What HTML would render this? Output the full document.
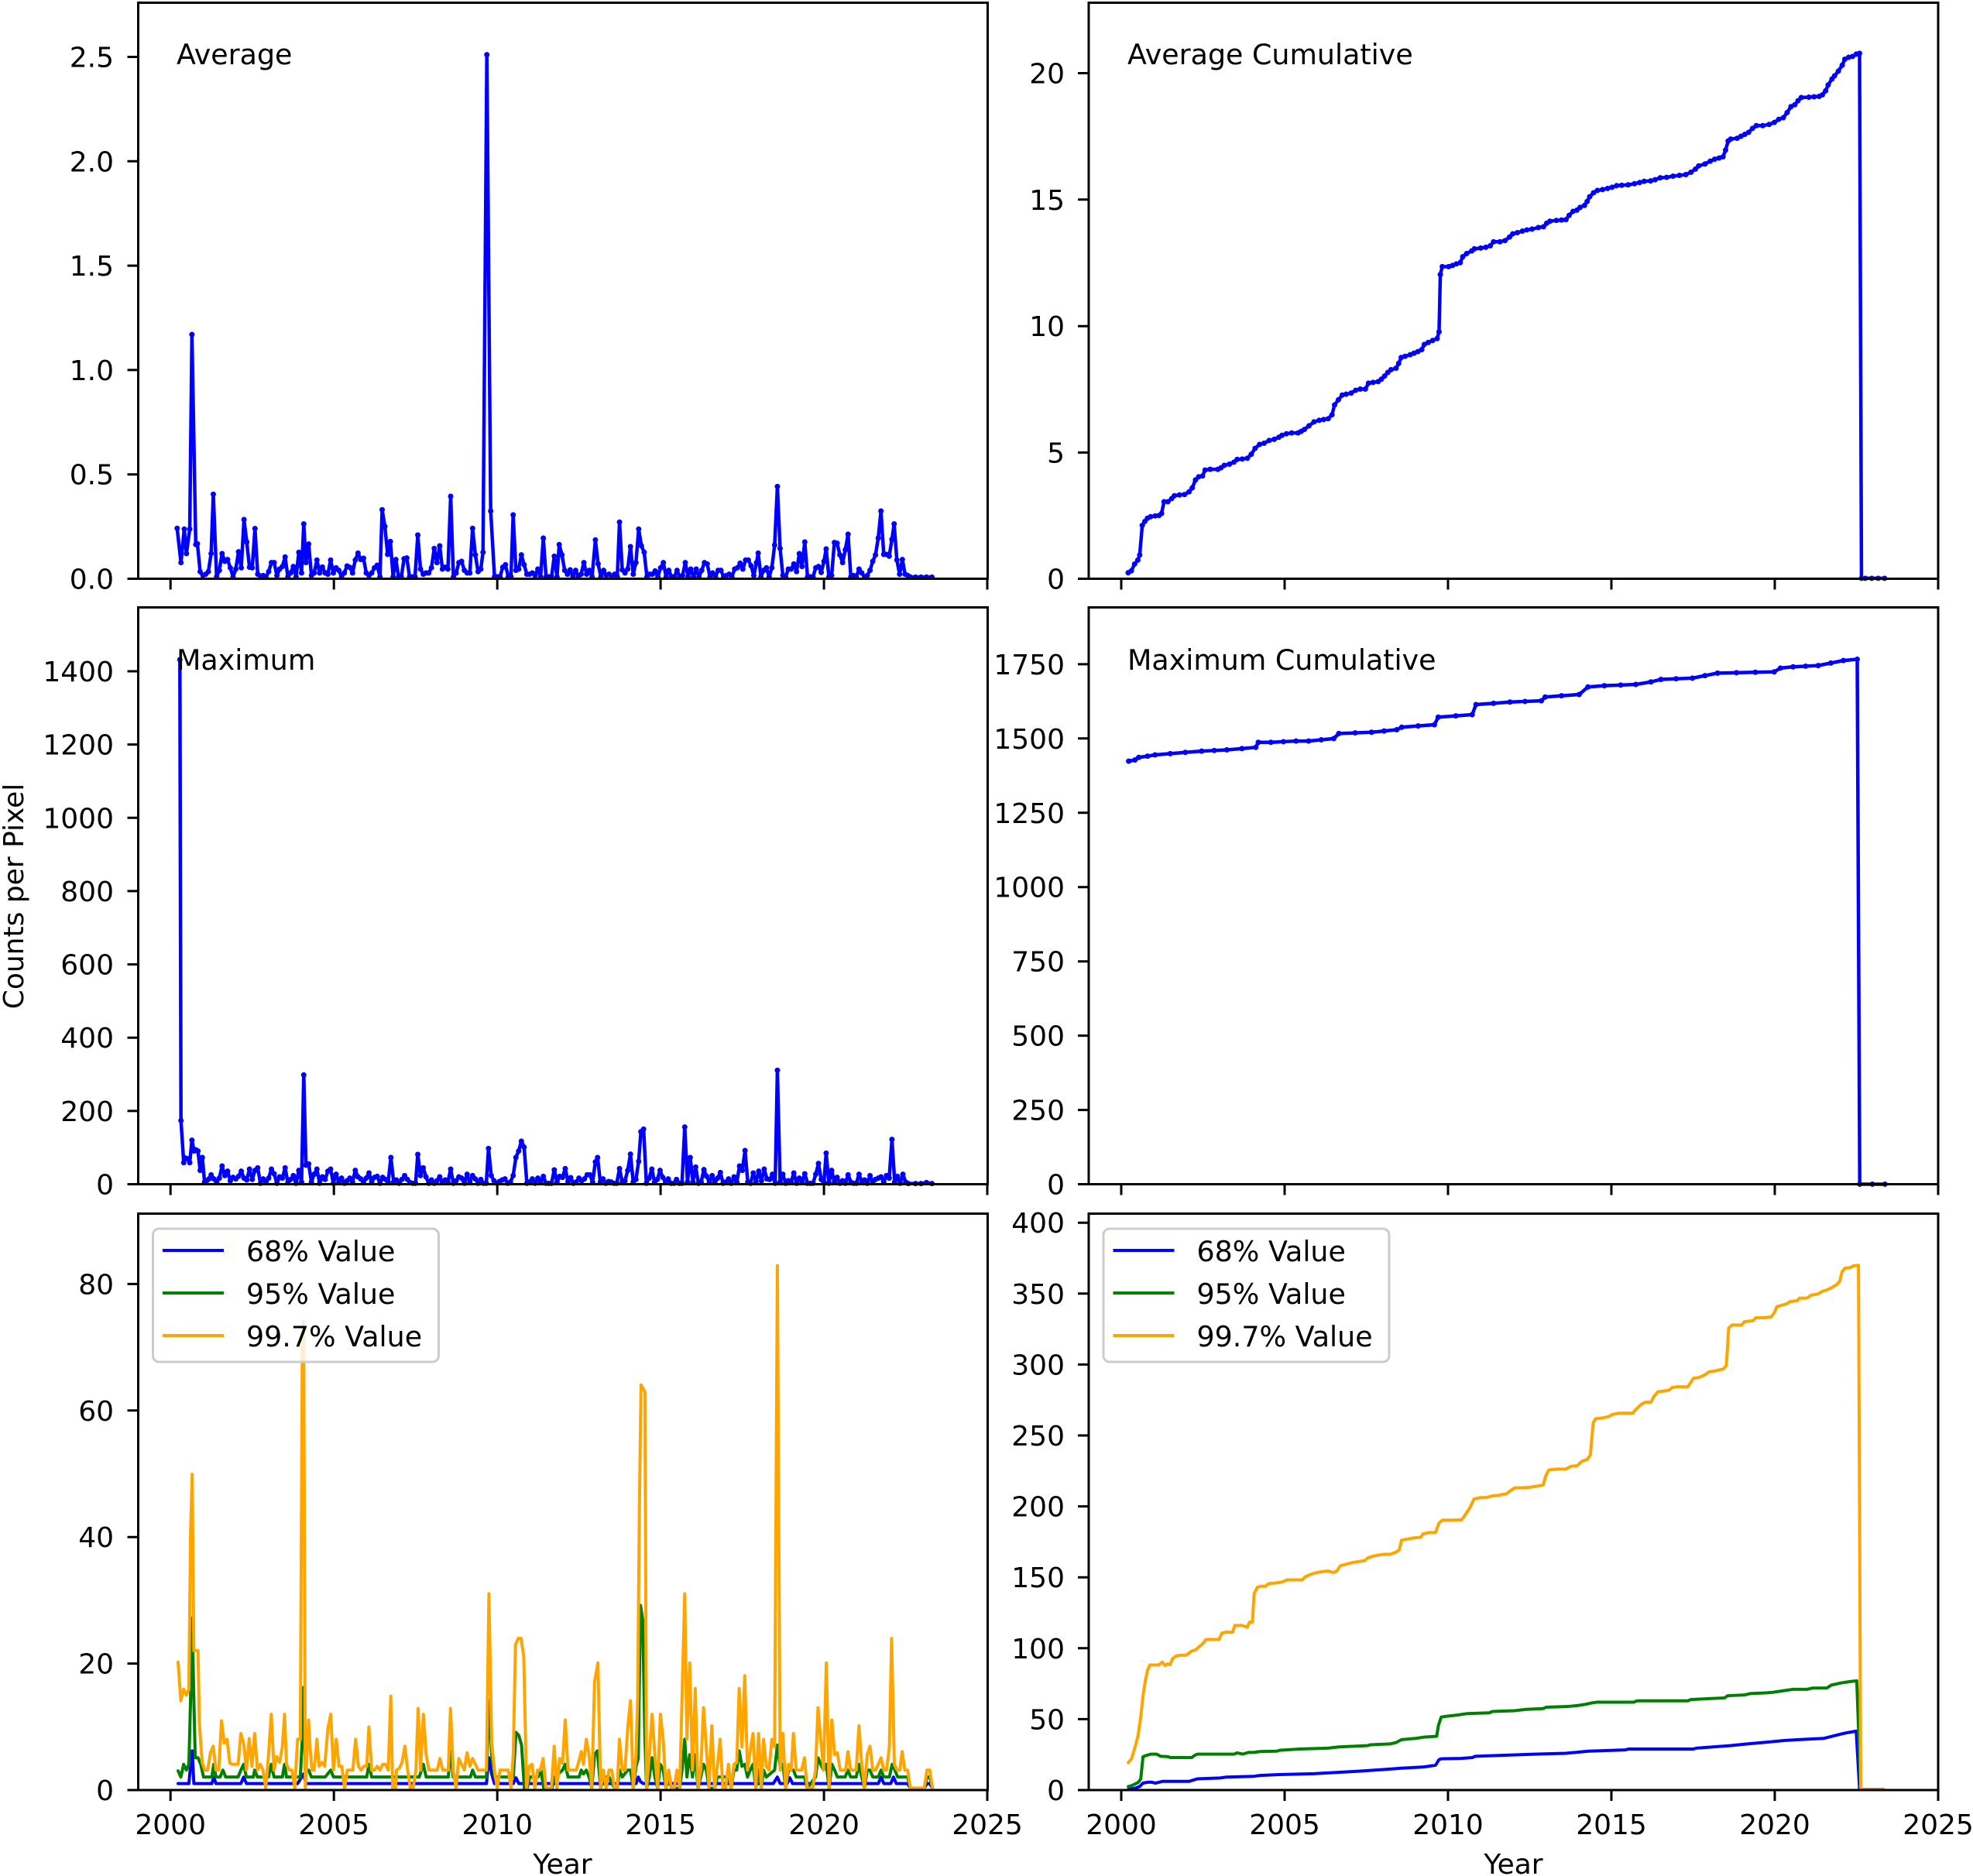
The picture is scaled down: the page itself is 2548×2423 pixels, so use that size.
<!DOCTYPE html>
<html><head><meta charset="utf-8"><title>Counts per Pixel</title>
<style>
html,body{margin:0;padding:0;background:#fff;}
svg{display:block;}
text{font-family:"DejaVu Sans","Liberation Sans",sans-serif;fill:#000;}
.ln{fill:none;vector-effect:non-scaling-stroke;stroke-linejoin:round;stroke-linecap:round;}
</style></head>
<body>
<svg width="2548" height="2423" viewBox="0 0 2548 2423" xmlns="http://www.w3.org/2000/svg">
<defs>
<marker id="mTL" markerUnits="userSpaceOnUse" viewBox="0 0 2 2" preserveAspectRatio="none" refX="1" refY="1" markerWidth="9.9" markerHeight="21" overflow="visible"><circle cx="1" cy="1" r="1" fill="#0000ff"/></marker>
<marker id="mTR" markerUnits="userSpaceOnUse" viewBox="0 0 2 2" preserveAspectRatio="none" refX="1" refY="1" markerWidth="8.46" markerHeight="13.7" overflow="visible"><circle cx="1" cy="1" r="1" fill="#0000ff"/></marker>
<marker id="mMR" markerUnits="userSpaceOnUse" viewBox="0 0 2 2" preserveAspectRatio="none" refX="1" refY="1" markerWidth="4.3" markerHeight="4.3" overflow="visible"><circle cx="1" cy="1" r="1" fill="#0000ff"/></marker>
</defs>
<rect x="0" y="0" width="2548" height="2423" fill="#fff"/>

<!-- ============ TOP LEFT: Average ============ -->
<g transform="translate(170 600) scale(0.70792 0.33333)">
<polyline class="ln" stroke="#0000ff" stroke-width="4.5" marker-start="url(#mTL)" marker-mid="url(#mTL)" marker-end="url(#mTL)" points="83,247 90,380 96,250 100,345 106,250 110,-504 117,310 120,307 125,415 130,430 135,425 140,415 145,345 149,115 155,435 160,410 165,345 170,375 175,368 180,400 185,435 190,405 195,338 200,400 205,213 210,300 215,398 220,400 225,248 230,425 235,432 240,430 245,437 250,415 255,380 260,380 265,430 270,405 275,395 280,358 285,435 290,420 295,395 300,435 305,340 310,420 314,230 318,380 323,308 328,430 333,420 338,370 343,420 348,397 353,420 358,425 363,370 368,420 373,400 378,410 383,435 388,420 393,393 398,398 403,420 408,370 413,343 418,368 423,363 428,420 433,430 438,420 443,400 448,390 453,435 457,175 462,240 467,348 472,298 477,435 482,368 487,435 492,435 497,365 502,362 507,435 512,435 517,435 522,273 527,405 532,425 537,420 542,420 547,400 552,325 557,380 562,315 567,405 572,398 577,405 582,123 587,435 592,420 597,380 602,375 607,410 612,420 617,420 622,247 627,350 632,415 637,405 641,340 648,-1588 655,180 662,435 667,435 672,435 677,398 682,388 687,435 692,435 696,195 701,410 706,405 711,350 716,388 721,425 726,425 731,420 736,430 741,405 746,435 751,285 756,435 761,435 766,435 771,355 776,435 780,310 785,350 790,410 795,425 800,408 805,432 810,410 815,435 820,425 825,380 830,425 835,410 840,435 846,292 851,385 856,435 861,410 866,430 871,425 876,435 881,425 886,435 890,223 895,408 900,420 905,405 910,318 915,425 920,380 925,250 930,315 935,340 940,435 945,425 950,425 955,412 960,435 965,400 970,380 975,435 980,410 985,435 990,435 995,410 1000,435 1005,430 1010,380 1015,435 1020,405 1025,435 1030,405 1035,435 1040,410 1045,380 1050,385 1055,435 1060,420 1065,435 1070,410 1075,410 1080,435 1085,430 1090,425 1095,435 1100,405 1105,400 1110,382 1115,405 1120,370 1125,370 1130,392 1135,430 1140,380 1143,343 1148,435 1153,410 1158,400 1163,435 1168,400 1173,312 1178,85 1183,325 1188,430 1193,435 1198,405 1203,405 1208,385 1213,415 1218,345 1223,395 1228,300 1233,435 1238,435 1243,435 1248,400 1253,395 1258,418 1263,375 1267,327 1272,435 1277,430 1282,302 1287,305 1292,350 1297,380 1302,330 1307,270 1312,435 1317,430 1322,435 1327,405 1332,420 1337,435 1342,430 1347,410 1352,375 1357,350 1362,285 1367,180 1372,348 1377,348 1382,355 1387,290 1391,230 1396,370 1401,425 1406,368 1411,425 1416,430 1421,436 1430,436 1440,436 1450,436 1460,436"/>
</g>

<!-- ============ TOP RIGHT: Average Cumulative ============ -->
<g transform="translate(1250 0) scale(0.82781 0.5102)">
<polyline class="ln" stroke="#0000ff" stroke-width="4.5" marker-start="url(#mTR)" marker-mid="url(#mTR)" marker-end="url(#mTR)" points="250,1450 255,1445 260,1428 265,1418 268,1405 272,1330 276,1320 280,1312 285,1308 292,1306 298,1305 302,1300 306,1270 312,1270 318,1262 322,1255 330,1253 338,1252 345,1245 350,1235 355,1215 360,1207 366,1205 370,1190 378,1188 390,1188 395,1184 400,1178 408,1175 415,1170 420,1163 428,1162 436,1160 442,1150 448,1135 455,1125 462,1122 470,1115 478,1112 485,1107 490,1102 497,1098 505,1096 515,1096 520,1092 525,1087 532,1078 540,1068 548,1064 555,1062 562,1060 568,1050 572,1025 578,1012 584,1000 590,998 598,995 605,988 612,985 620,985 625,970 632,968 640,966 645,960 650,952 655,943 660,936 668,932 672,920 676,905 682,902 690,898 696,894 702,890 708,885 712,872 718,867 725,862 732,857 735,840 737,695 740,675 750,675 756,672 762,668 768,665 772,650 778,642 786,635 790,630 800,628 808,626 815,622 820,612 830,612 838,609 845,600 850,592 857,589 865,585 872,582 880,580 890,576 898,574 903,565 908,560 918,558 926,557 933,556 938,545 944,535 950,532 955,525 962,520 966,510 970,498 976,488 982,482 990,480 998,477 1005,474 1012,470 1020,469 1030,468 1040,465 1048,462 1055,459 1065,458 1072,455 1080,450 1090,449 1100,446 1110,444 1120,442 1128,436 1135,428 1140,420 1150,415 1158,408 1165,403 1172,400 1178,397 1182,380 1186,357 1190,352 1200,350 1206,345 1212,340 1218,335 1224,325 1230,318 1240,318 1250,315 1258,310 1265,302 1272,298 1278,285 1284,270 1290,265 1295,255 1300,247 1312,246 1320,245 1328,244 1333,240 1338,230 1342,215 1348,200 1352,192 1358,180 1364,165 1368,150 1374,145 1380,143 1386,137 1391,135 1394,1464 1400,1464 1410,1464 1420,1464 1430,1464"/>
</g>

<!-- ============ MIDDLE LEFT: Maximum ============ -->
<g transform="translate(170 1330) scale(0.70792 0.33333)">
<polyline class="ln" stroke="#0000ff" stroke-width="4.5" marker-start="url(#mTL)" marker-mid="url(#mTL)" marker-end="url(#mTL)" points="88,-1434 90,352 95,515 98,497 102,500 106,515 110,428 114,470 117,465 121,470 125,545 129,495 133,590 137,585 141,578 145,562 150,578 155,590 160,575 165,528 170,565 175,548 180,585 185,572 190,578 195,568 200,548 205,575 210,582 215,540 220,580 225,545 230,535 235,595 240,578 245,590 250,575 255,540 260,558 265,595 270,570 275,575 280,535 285,592 290,580 295,565 300,595 305,545 310,590 314,175 318,525 323,520 328,590 333,560 338,540 343,595 348,570 353,580 358,548 363,540 368,595 373,560 378,590 383,575 388,595 393,585 398,575 403,590 408,545 413,570 418,578 423,590 428,575 433,555 438,590 443,572 448,568 453,595 458,572 463,580 468,590 473,495 478,590 483,582 488,595 493,580 498,565 503,580 508,592 513,595 518,595 522,483 527,565 532,535 537,570 542,595 547,582 552,595 557,585 562,570 567,590 572,582 577,590 582,540 587,595 592,585 597,570 602,575 607,595 612,560 617,590 622,565 627,578 632,595 637,580 642,595 647,595 651,460 656,565 661,585 666,595 671,588 676,582 681,578 686,595 691,590 696,565 701,495 706,470 711,432 716,455 721,595 726,590 731,578 736,595 741,575 746,590 751,568 756,595 761,595 766,595 771,543 776,590 781,568 786,572 791,538 796,588 801,573 806,595 811,590 816,575 821,585 826,578 831,562 836,562 841,590 846,512 850,495 855,590 860,578 865,595 870,588 875,590 880,595 885,595 890,538 895,590 900,585 905,545 910,482 915,590 920,580 925,510 929,395 934,385 939,595 944,575 949,540 954,590 959,580 964,545 969,572 974,590 979,578 984,595 989,595 994,580 999,595 1004,595 1009,377 1014,590 1019,495 1024,590 1029,532 1034,595 1039,590 1044,542 1049,568 1054,590 1059,565 1064,592 1069,575 1074,553 1079,595 1084,590 1089,578 1094,595 1099,570 1104,590 1109,528 1114,545 1119,468 1124,590 1129,595 1134,555 1139,590 1144,548 1149,585 1154,540 1159,578 1164,580 1169,560 1174,595 1178,157 1183,590 1188,560 1193,595 1198,585 1203,590 1208,555 1213,595 1218,575 1223,590 1228,558 1233,595 1238,595 1243,595 1248,560 1253,518 1258,580 1263,590 1267,478 1272,595 1277,545 1282,590 1287,572 1292,595 1297,585 1302,595 1307,562 1312,590 1317,595 1322,595 1327,560 1332,590 1337,582 1342,595 1347,565 1352,590 1357,580 1362,575 1367,570 1372,590 1377,565 1382,575 1387,425 1392,590 1397,568 1402,595 1407,560 1412,590 1417,596 1430,596 1440,596 1450,592 1460,596"/>
</g>

<!-- ============ MIDDLE RIGHT: Maximum Cumulative ============ -->
<g transform="scale(1.625)">
<polyline class="ln" stroke="#0000ff" stroke-width="4.5" marker-start="url(#mMR)" marker-mid="url(#mMR)" marker-end="url(#mMR)" points="897,605 902,604 905,602 912,601 918,600 930,599 942,598 955,597 965,596.5 975,596 987,595 998,594 1000,590 1010,590 1020,589.5 1030,589 1040,589 1050,588 1060,587 1064,583 1077,582.5 1090,582 1100,581 1110,580 1114,578 1127,577 1140,576 1143,570 1157,569 1170,568 1173,560 1187,559 1200,558 1212,557.5 1225,557 1228,554 1241,553 1255,552 1262,546 1275,545 1288,544.5 1300,544 1312,542 1320,540 1332,539.5 1345,539 1355,537 1365,535 1380,534.7 1395,534.3 1410,534 1415,531 1425,530 1435,529.5 1445,529 1455,527 1465,525 1476,524 1478,941.2 1488,941.2 1498,941.2"/>
</g>

<!-- ============ BOTTOM LEFT: percentiles ============ -->
<g transform="translate(170 1550) scale(0.35714 0.49745)">
<polyline class="ln" stroke="#0000ff" stroke-width="4" points="168,1515 207,1515 213,1470 219,1430 225,1515 290,1515 297,1498 305,1515 395,1515 405,1498 415,1515 600,1515 622,1490 630,1515 1283,1515 1292,1448 1302,1490 1312,1515 1380,1515 1390,1500 1400,1515 1558,1515"/>
<polyline class="ln" stroke="#008000" stroke-width="4" points="168,1482 178,1498 188,1465 198,1480 207,1465 213,1300 219,1085 225,1300 230,1448 240,1448 250,1465 260,1498 290,1498 297,1465 305,1498 320,1498 330,1480 340,1498 385,1498 395,1480 405,1465 415,1498 440,1498 445,1480 455,1498 495,1498 505,1465 515,1498 545,1498 553,1465 560,1498 610,1498 617,1400 622,1265 628,1480 640,1480 650,1498 700,1498 720,1480 730,1498 850,1498 858,1465 868,1498 1040,1498 1055,1465 1065,1498 1145,1498 1153,1430 1163,1498 1225,1498 1233,1480 1243,1498 1283,1498 1292,1300 1302,1440 1312,1498 1380,1498 1390,1382 1400,1390 1410,1415 1420,1527 1430,1527 1440,1498 1470,1498 1480,1480 1490,1527 1500,1527 1520,1527 1530,1498 1558,1480"/>
<polyline class="ln" stroke="#ffa500" stroke-width="4" points="168,1200 178,1300 188,1270 198,1285 207,1270 213,870 219,712 225,1170 235,1170 240,1170 245,1360 255,1460 265,1480 275,1480 285,1435 295,1418 305,1480 315,1480 325,1352 335,1410 345,1400 355,1462 365,1465 375,1465 385,1465 395,1385 405,1410 415,1480 425,1398 435,1470 445,1385 455,1480 465,1465 475,1480 485,1527 495,1440 505,1335 515,1480 525,1445 535,1460 545,1420 553,1335 560,1465 570,1480 580,1480 590,1527 600,1400 610,1400 617,400 622,315 628,1527 634,1440 640,1350 645,1420 652,1480 660,1480 670,1400 678,1470 688,1460 698,1470 710,1370 720,1335 730,1480 740,1400 750,1470 760,1470 770,1527 780,1480 790,1480 800,1480 810,1400 820,1470 830,1480 840,1470 850,1470 858,1368 868,1480 878,1480 888,1470 898,1480 908,1465 918,1465 928,1480 937,1288 944,1527 954,1527 958,1480 968,1475 978,1460 988,1418 998,1480 1008,1527 1018,1527 1028,1480 1036,1320 1045,1480 1055,1335 1065,1440 1075,1480 1085,1480 1095,1480 1105,1480 1115,1450 1125,1480 1135,1480 1145,1480 1153,1320 1163,1480 1173,1527 1183,1450 1193,1465 1203,1480 1213,1435 1223,1470 1233,1450 1243,1465 1253,1480 1263,1480 1273,1480 1283,1480 1292,1022 1302,1410 1312,1480 1322,1527 1332,1480 1342,1480 1352,1480 1362,1480 1372,1527 1380,1440 1388,1155 1398,1138 1408,1138 1418,1185 1428,1527 1438,1470 1448,1465 1458,1527 1468,1480 1478,1480 1488,1450 1498,1527 1508,1527 1518,1527 1528,1418 1538,1527 1548,1450 1558,1462"/>
</g>
<g transform="translate(720 1550) scale(0.35714 0.49745)">
<polyline class="ln" stroke="#0000ff" stroke-width="4" points="18,1515 284,1515 292,1498 300,1510 310,1515 780,1515 795,1498 805,1515 830,1515 840,1500 850,1515 1160,1515 1170,1498 1180,1515 1205,1515 1215,1498 1225,1515 1266,1515 1276,1527 1326,1527 1336,1515 1346,1515 1356,1527"/>
<polyline class="ln" stroke="#008000" stroke-width="4" points="18,1480 28,1465 38,1498 78,1498 86,1480 94,1490 104,1480 114,1498 124,1527 134,1440 144,1430 156,1527 166,1498 186,1498 206,1527 216,1527 224,1480 234,1498 254,1480 264,1480 274,1527 284,1470 292,1450 300,1052 308,1090 316,1400 322,1527 332,1498 342,1448 352,1498 362,1527 372,1465 382,1480 392,1527 402,1498 412,1527 442,1527 452,1470 460,1400 468,1498 478,1440 488,1498 498,1440 508,1527 518,1498 528,1465 538,1480 548,1527 568,1527 578,1498 618,1498 628,1527 638,1480 648,1480 657,1430 667,1470 677,1465 687,1498 697,1480 707,1465 717,1527 727,1480 737,1527 745,1480 755,1498 785,1480 795,1415 805,1470 815,1465 825,1527 835,1480 845,1480 853,1480 863,1498 893,1498 903,1527 933,1498 942,1448 952,1465 962,1480 972,1465 982,1527 992,1465 1002,1480 1012,1498 1040,1498 1050,1480 1060,1498 1080,1498 1090,1465 1100,1498 1110,1527 1120,1480 1130,1480 1140,1498 1160,1498 1170,1480 1180,1498 1200,1498 1210,1465 1220,1480 1230,1498 1266,1498 1276,1527 1326,1527 1336,1498 1346,1498 1356,1527"/>
<polyline class="ln" stroke="#ffa500" stroke-width="4" points="18,1462 28,1350 38,1480 48,1480 58,1480 68,1480 78,1455 86,1432 94,1465 104,1400 114,1440 124,1527 134,1250 146,1202 156,1527 166,1480 176,1527 186,1480 196,1480 206,1527 216,1527 224,1400 234,1480 244,1480 254,1370 264,1300 274,1527 284,1440 290,1290 296,800 302,480 310,490 316,498 322,1527 332,1440 342,1335 352,1440 362,1527 372,1335 382,1400 392,1527 402,1480 412,1527 422,1527 432,1480 442,1527 450,1300 460,1022 468,1400 478,1202 488,1480 498,1268 508,1527 518,1480 528,1318 538,1420 548,1527 558,1365 568,1527 578,1470 588,1400 598,1527 608,1527 618,1465 628,1527 638,1465 648,1460 657,1268 667,1420 677,1235 687,1480 697,1430 707,1385 717,1527 727,1385 737,1527 745,1400 755,1470 765,1480 775,1400 785,1420 795,170 805,1480 815,1385 825,1527 835,1465 845,1480 853,1385 863,1480 873,1480 883,1480 893,1448 903,1527 913,1527 923,1527 933,1480 942,1318 952,1400 962,1480 972,1202 982,1527 992,1350 1002,1440 1012,1435 1022,1480 1032,1480 1042,1480 1050,1432 1060,1480 1070,1480 1080,1480 1090,1365 1100,1465 1110,1527 1120,1440 1130,1418 1140,1480 1150,1480 1160,1465 1170,1448 1180,1480 1190,1480 1200,1420 1208,1138 1218,1465 1228,1480 1238,1480 1246,1432 1256,1480 1266,1480 1276,1527 1286,1527 1296,1527 1306,1527 1316,1527 1326,1527 1336,1480 1346,1480 1356,1527"/>
</g>

<!-- ============ BOTTOM RIGHT: cumulative percentiles ============ -->
<g transform="translate(1400 1560) scale(0.73214 0.55038)">
<polyline class="ln" stroke="#0000ff" stroke-width="4" points="78,1365 90,1362 98,1358 104,1350 112,1348 120,1348 126,1350 132,1348 138,1346 185,1346 200,1340 240,1338 250,1336 300,1334 310,1332 345,1330 405,1328 445,1325 485,1322 530,1318 560,1315 600,1312 620,1308 626,1295 630,1293 665,1292 685,1290 690,1287 795,1282 850,1280 890,1275 955,1272 960,1270 1075,1270 1080,1268 1110,1265 1140,1262 1170,1258 1205,1254 1235,1250 1260,1248 1305,1245 1320,1240 1335,1235 1345,1232 1362,1228 1368,1365 1410,1365"/>
<polyline class="ln" stroke="#008000" stroke-width="4" points="78,1358 84,1356 90,1352 96,1348 100,1340 104,1288 110,1285 118,1282 128,1282 135,1287 148,1288 152,1290 190,1290 195,1285 200,1282 265,1282 270,1279 280,1282 290,1278 300,1278 310,1276 340,1275 345,1273 380,1270 430,1268 450,1265 500,1262 506,1260 540,1258 550,1255 560,1248 585,1245 600,1242 622,1240 625,1215 630,1195 640,1193 660,1190 675,1187 715,1185 720,1182 760,1180 780,1177 810,1175 815,1172 855,1170 870,1168 885,1165 895,1162 905,1160 970,1160 975,1157 1065,1157 1070,1154 1100,1152 1130,1150 1135,1145 1165,1143 1175,1140 1205,1138 1215,1137 1240,1132 1250,1130 1275,1130 1285,1127 1310,1127 1318,1120 1335,1115 1350,1112 1363,1110 1370,1365 1410,1365"/>
<polyline class="ln" stroke="#ffa500" stroke-width="4" points="78,1302 84,1292 90,1265 95,1240 100,1195 104,1145 108,1110 112,1085 116,1073 125,1073 132,1073 138,1066 143,1074 148,1070 152,1072 156,1058 162,1052 168,1050 180,1050 185,1045 190,1040 197,1037 203,1030 210,1022 215,1013 225,1013 238,1013 243,998 250,996 262,996 266,980 278,980 288,984 292,972 297,972 300,905 306,890 312,888 320,888 325,882 340,880 350,878 358,873 370,873 385,873 390,866 400,860 410,856 420,854 430,852 440,856 446,852 452,840 458,838 466,835 475,832 485,830 495,828 500,822 508,818 518,815 530,813 540,813 550,808 556,803 560,780 568,778 580,775 594,773 598,765 610,762 620,762 626,740 632,733 650,733 666,732 670,725 680,705 688,683 700,680 710,680 720,676 730,675 745,671 752,664 760,657 775,657 785,656 800,653 810,650 814,630 820,615 835,613 850,613 858,607 870,605 878,595 888,590 893,580 898,505 902,495 915,493 925,490 932,485 943,482 968,482 972,475 982,462 990,456 1000,456 1005,443 1012,432 1022,430 1032,428 1037,422 1045,420 1065,420 1070,410 1075,400 1085,398 1095,392 1102,385 1112,383 1128,378 1133,370 1137,282 1143,275 1160,275 1165,267 1180,265 1185,258 1200,258 1212,256 1218,245 1222,232 1232,228 1240,225 1245,220 1258,218 1262,212 1275,212 1282,205 1295,202 1302,196 1310,193 1318,188 1328,180 1333,172 1337,150 1342,142 1352,140 1357,136 1366,135 1370,1365 1410,1365"/>
</g>

<!-- ============ LEGENDS ============ -->
<g>
<rect x="197.5" y="1587" width="369" height="172" rx="8" ry="8" fill="#fff" fill-opacity="0.8" stroke="#cccccc" stroke-width="3"/>
<line x1="210" y1="1615" x2="289" y2="1615" stroke="#0000ff" stroke-width="4"/>
<line x1="210" y1="1670" x2="289" y2="1670" stroke="#008000" stroke-width="4"/>
<line x1="210" y1="1725" x2="289" y2="1725" stroke="#ffa500" stroke-width="4"/>
<text x="318" y="1629" font-size="36.4">68% Value</text>
<text x="318" y="1684" font-size="36.4">95% Value</text>
<text x="318" y="1739" font-size="36.4">99.7% Value</text>
</g>
<g transform="translate(1227.5 0)">
<rect x="197.5" y="1587" width="369" height="172" rx="8" ry="8" fill="#fff" fill-opacity="0.8" stroke="#cccccc" stroke-width="3"/>
<line x1="210" y1="1615" x2="289" y2="1615" stroke="#0000ff" stroke-width="4"/>
<line x1="210" y1="1670" x2="289" y2="1670" stroke="#008000" stroke-width="4"/>
<line x1="210" y1="1725" x2="289" y2="1725" stroke="#ffa500" stroke-width="4"/>
<text x="318" y="1629" font-size="36.4">68% Value</text>
<text x="318" y="1684" font-size="36.4">95% Value</text>
<text x="318" y="1739" font-size="36.4">99.7% Value</text>
</g>

<!-- ============ AXES FRAMES ============ -->
<g fill="none" stroke="#000" stroke-width="3">
<rect x="178.5" y="3.5" width="1097" height="744"/>
<rect x="1406" y="3.5" width="1097" height="744"/>
<rect x="178.5" y="784.5" width="1097" height="745"/>
<rect x="1406" y="784.5" width="1097" height="745"/>
<rect x="178.5" y="1567.5" width="1097" height="744.5"/>
<rect x="1406" y="1567.5" width="1097" height="744.5"/>
</g>

<!-- ============ X TICKS ============ -->
<g stroke="#000" stroke-width="3">
<path d="M220.2 747.5v14M431.2 747.5v14M642.2 747.5v14M853.1 747.5v14M1064.1 747.5v14M1275 747.5v14"/>
<path d="M1448 747.5v14M1659 747.5v14M1870 747.5v14M2081 747.5v14M2292 747.5v14M2503 747.5v14"/>
<path d="M220.2 1529.5v14M431.2 1529.5v14M642.2 1529.5v14M853.1 1529.5v14M1064.1 1529.5v14M1275 1529.5v14"/>
<path d="M1448 1529.5v14M1659 1529.5v14M1870 1529.5v14M2081 1529.5v14M2292 1529.5v14M2503 1529.5v14"/>
<path d="M220.2 2312v14M431.2 2312v14M642.2 2312v14M853.1 2312v14M1064.1 2312v14M1275 2312v14"/>
<path d="M1448 2312v14M1659 2312v14M1870 2312v14M2081 2312v14M2292 2312v14M2503 2312v14"/>
</g>

<!-- ============ Y TICKS ============ -->
<g stroke="#000" stroke-width="3">
<path d="M178.5 747.5h-14M178.5 612.7h-14M178.5 477.9h-14M178.5 343.1h-14M178.5 208.3h-14M178.5 73.5h-14"/>
<path d="M1406 747.5h-14M1406 584.5h-14M1406 421.2h-14M1406 257.8h-14M1406 94.5h-14"/>
<path d="M178.5 1529.5h-14M178.5 1434.9h-14M178.5 1340.2h-14M178.5 1245.6h-14M178.5 1150.9h-14M178.5 1056.3h-14M178.5 961.6h-14M178.5 867h-14"/>
<path d="M1406 1529.5h-14M1406 1433.6h-14M1406 1337.6h-14M1406 1241.7h-14M1406 1145.7h-14M1406 1049.8h-14M1406 953.8h-14M1406 857.9h-14"/>
<path d="M178.5 2312h-14M178.5 2148.6h-14M178.5 1985.2h-14M178.5 1821.8h-14M178.5 1658.4h-14"/>
<path d="M1406 2312h-14M1406 2220.4h-14M1406 2128.8h-14M1406 2037.2h-14M1406 1945.6h-14M1406 1854h-14M1406 1762.4h-14M1406 1670.8h-14M1406 1579.2h-14"/>
</g>

<!-- ============ TICK LABELS ============ -->
<g font-size="36" text-anchor="end">
<text x="147" y="760.5">0.0</text>
<text x="147" y="625.7">0.5</text>
<text x="147" y="490.9">1.0</text>
<text x="147" y="356.1">1.5</text>
<text x="147" y="221.3">2.0</text>
<text x="147" y="86.5">2.5</text>

<text x="1375" y="760.5">0</text>
<text x="1375" y="597.5">5</text>
<text x="1375" y="434.2">10</text>
<text x="1375" y="270.8">15</text>
<text x="1375" y="107.5">20</text>

<text x="147" y="1542.5">0</text>
<text x="147" y="1447.9">200</text>
<text x="147" y="1353.2">400</text>
<text x="147" y="1258.6">600</text>
<text x="147" y="1163.9">800</text>
<text x="147" y="1069.3">1000</text>
<text x="147" y="974.6">1200</text>
<text x="147" y="880">1400</text>

<text x="1375" y="1542.5">0</text>
<text x="1375" y="1446.6">250</text>
<text x="1375" y="1350.6">500</text>
<text x="1375" y="1254.7">750</text>
<text x="1375" y="1158.7">1000</text>
<text x="1375" y="1062.8">1250</text>
<text x="1375" y="966.8">1500</text>
<text x="1375" y="870.9">1750</text>

<text x="147" y="2325">0</text>
<text x="147" y="2161.6">20</text>
<text x="147" y="1998.2">40</text>
<text x="147" y="1834.8">60</text>
<text x="147" y="1671.4">80</text>

<text x="1375" y="2325">0</text>
<text x="1375" y="2233.4">50</text>
<text x="1375" y="2141.8">100</text>
<text x="1375" y="2050.2">150</text>
<text x="1375" y="1958.6">200</text>
<text x="1375" y="1867">250</text>
<text x="1375" y="1775.4">300</text>
<text x="1375" y="1683.8">350</text>
<text x="1375" y="1592.2">400</text>
</g>
<g font-size="36" text-anchor="middle">
<text x="220.2" y="2369">2000</text>
<text x="431.2" y="2369">2005</text>
<text x="642.2" y="2369">2010</text>
<text x="853.1" y="2369">2015</text>
<text x="1064.1" y="2369">2020</text>
<text x="1275" y="2369">2025</text>
<text x="1448" y="2369">2000</text>
<text x="1659" y="2369">2005</text>
<text x="1870" y="2369">2010</text>
<text x="2081" y="2369">2015</text>
<text x="2292" y="2369">2020</text>
<text x="2503" y="2369">2025</text>
<text x="726.5" y="2420">Year</text>
<text x="1954.5" y="2420">Year</text>
<text transform="translate(30 1157.5) rotate(-90)">Counts per Pixel</text>
</g>

<!-- ============ PANEL TITLES ============ -->
<g font-size="36.4">
<text x="228" y="83">Average</text>
<text x="1456" y="83">Average Cumulative</text>
<text x="228" y="865">Maximum</text>
<text x="1456" y="865">Maximum Cumulative</text>
</g>
</svg>
</body></html>
